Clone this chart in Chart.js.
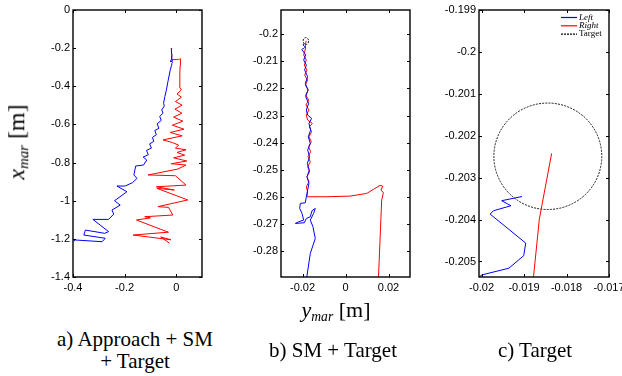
<!DOCTYPE html>
<html>
<head>
<meta charset="utf-8">
<script src="https://cdn.jsdelivr.net/npm/chart.js@4.4.0/dist/chart.umd.min.js"></script>
<style>
  body { margin: 0; width: 622px; height: 376px; background: #fff; position: relative; overflow: hidden; font-family: "Liberation Serif", serif; }
  canvas { position: absolute; top: 0; }
  .cap { position: absolute; font-size: 21px; line-height: 22px; text-align: center; white-space: nowrap; transform: translateX(-50%); }
  .lbl { position: absolute; white-space: nowrap; }
  .lbl i { font-style: italic; }
  .lbl sub { font-style: italic; font-size: 0.62em; vertical-align: -0.3em; }
</style>
</head>
<body>
<canvas id="chartA" width="210" height="300" style="left:0px"></canvas>
<canvas id="chartB" width="203" height="300" style="left:212px"></canvas>
<canvas id="chartC" width="220" height="300" style="left:415px"></canvas>

<div class="lbl" style="left:18px; top:142px; font-size:24px; transform: translate(-50%,-50%) rotate(-90deg);"><i>x</i><sub>mar</sub> [m]</div>
<div class="lbl" style="left:336px; top:311px; font-size:22px; transform: translate(-50%,-50%);"><i>y</i><sub>mar</sub> [m]</div>

<div class="cap" style="left:135px; top:328px;">a) Approach + SM<br>+ Target</div>
<div class="cap" style="left:333px; top:339px;">b) SM + Target</div>
<div class="cap" style="left:535px; top:339px;">c) Target</div>

<script>
// target circle (centre x, centre y) and radius, metres
const targetCenter = [-0.01844, -0.20249];
const targetRadius = 0.00127;

// approach phase, left (blue) and right (red) marker, from far away up to the SM start
const approachLeft = [
  [-0.398, -1.212], [-0.390, -1.206], [-0.287, -1.215], [-0.275, -1.197], [-0.358, -1.180],
  [-0.352, -1.154], [-0.277, -1.171], [-0.262, -1.162], [-0.323, -1.098], [-0.262, -1.098],
  [-0.242, -1.070], [-0.249, -1.049], [-0.217, -1.023], [-0.239, -1.000], [-0.191, -0.953],
  [-0.230, -0.923], [-0.198, -0.923], [-0.169, -0.905], [-0.152, -0.883], [-0.164, -0.865],
  [-0.157, -0.818], [-0.127, -0.813], [-0.114, -0.787], [-0.128, -0.771], [-0.108, -0.759],
  [-0.115, -0.736], [-0.096, -0.724], [-0.103, -0.702], [-0.087, -0.689], [-0.092, -0.668],
  [-0.077, -0.654], [-0.083, -0.632], [-0.067, -0.620], [-0.074, -0.597], [-0.058, -0.579],
  [-0.064, -0.558], [-0.051, -0.541], [-0.056, -0.524], [-0.046, -0.503], [-0.049, -0.489],
  [-0.044, -0.454], [-0.038, -0.419], [-0.032, -0.375], [-0.023, -0.314], [-0.0182, -0.2908]
];
const approachRight = [
  [-0.026, -1.223], [-0.060, -1.190], [-0.020, -1.205], [-0.167, -1.180], [-0.030, -1.165],
  [-0.060, -1.150], [-0.154, -1.101], [-0.100, -1.090], [-0.122, -1.084], [-0.013, -1.075],
  [-0.030, -1.035], [-0.071, -1.031], [0.045, -0.996], [-0.075, -0.935], [-0.007, -0.944],
  [-0.077, -0.927], [0.038, -0.918], [-0.003, -0.869], [-0.109, -0.865], [0.006, -0.834],
  [0.038, -0.813], [-0.019, -0.806], [0.041, -0.792], [-0.010, -0.775], [0.033, -0.761],
  [0.003, -0.747], [0.038, -0.733], [-0.003, -0.724], [0.010, -0.709], [-0.015, -0.695],
  [-0.051, -0.681], [0.023, -0.660], [-0.023, -0.642], [0.030, -0.625], [-0.015, -0.604],
  [0.026, -0.583], [-0.010, -0.562], [0.022, -0.541], [-0.005, -0.520], [0.023, -0.499],
  [-0.003, -0.480], [0.020, -0.457], [0.003, -0.440], [0.020, -0.419], [0.0128, -0.405],
  [0.0141, -0.330], [0.0153, -0.2908]
];

// SM phase
const smLeft = [
  [-0.01822, -0.29085], [-0.01637, -0.28099], [-0.01405, -0.27544], [-0.01514, -0.27113],
  [-0.01637, -0.26866], [-0.01483, -0.26620], [-0.01405, -0.26435], [-0.01560, -0.26521],
  [-0.01637, -0.26743], [-0.01822, -0.26805], [-0.01915, -0.26965], [-0.02332, -0.26990],
  [-0.02178, -0.26928], [-0.01946, -0.26866], [-0.02023, -0.26620], [-0.02131, -0.26435],
  [-0.02100, -0.26250], [-0.01869, -0.26225], [-0.01822, -0.26003], [-0.01761, -0.25757],
  [-0.01699, -0.25510], [-0.01792, -0.25264], [-0.01683, -0.25017], [-0.01776, -0.24771],
  [-0.01668, -0.24524], [-0.01761, -0.24278], [-0.01637, -0.24031], [-0.01730, -0.23785],
  [-0.01622, -0.23538], [-0.01699, -0.23291], [-0.01575, -0.23106], [-0.01761, -0.22983],
  [-0.01822, -0.22798], [-0.01714, -0.22552], [-0.01853, -0.22305], [-0.01745, -0.22059],
  [-0.01869, -0.21812], [-0.01761, -0.21566], [-0.01900, -0.21319], [-0.01822, -0.21134],
  [-0.01946, -0.20949], [-0.01853, -0.20764], [-0.02030, -0.20560]
];
const smRight = [
  [0.01529, -0.29085], [0.01606, -0.27606], [0.01683, -0.26127], [0.01761, -0.25856],
  [0.01653, -0.25757], [0.01730, -0.25609], [0.01606, -0.25584], [0.01297, -0.25732],
  [0.00988, -0.25880], [0.00216, -0.25979], [-0.00865, -0.26003], [-0.01792, -0.26003],
  [-0.01761, -0.25819], [-0.01822, -0.25634], [-0.01699, -0.25449], [-0.01792, -0.25264],
  [-0.01668, -0.25079], [-0.01761, -0.24894], [-0.01637, -0.24709], [-0.01745, -0.24524],
  [-0.01622, -0.24339], [-0.01714, -0.24154], [-0.01591, -0.23969], [-0.01699, -0.23785],
  [-0.01575, -0.23600], [-0.01683, -0.23415], [-0.01544, -0.23291], [-0.01761, -0.23168],
  [-0.01822, -0.22983], [-0.01699, -0.22798], [-0.01838, -0.22613], [-0.01714, -0.22428],
  [-0.01853, -0.22244], [-0.01730, -0.22059], [-0.01869, -0.21874], [-0.01761, -0.21689],
  [-0.01900, -0.21504], [-0.01792, -0.21319], [-0.01915, -0.21134], [-0.01822, -0.20949],
  [-0.01946, -0.20764], [-0.01890, -0.20620]
];

// final approach into the target
const targetLeft = [
  [-0.02010, -0.20540], [-0.019991, -0.20532], [-0.019356, -0.20516], [-0.019007, -0.20486],
  [-0.018960, -0.20456], [-0.019798, -0.20387], [-0.019721, -0.20379], [-0.019309, -0.20367],
  [-0.019526, -0.20355], [-0.019046, -0.20345]
];
const targetRight = [
  [-0.01880, -0.20560], [-0.01864, -0.20399], [-0.01835, -0.20242]
];

// axis ranges and tick values per panel
const xRangeA = [-0.4, 0.1],        yRangeA = [-1.4, 0];
const xTicksA = [-0.4, -0.2, 0],    yTicksA = [0, -0.2, -0.4, -0.6, -0.8, -1, -1.2, -1.4];
const xRangeB = [-0.03, 0.03],      yRangeB = [-0.2897, -0.191];
const xTicksB = [-0.02, 0, 0.02],   yTicksB = [-0.2, -0.21, -0.22, -0.23, -0.24, -0.25, -0.26, -0.27, -0.28];
const xRangeC = [-0.02006, -0.017], yRangeC = [-0.20537, -0.199];
const xTicksC = [-0.02, -0.019, -0.018, -0.017];
const yTicksC = [-0.199, -0.2, -0.201, -0.202, -0.203, -0.204, -0.205];

const toPts = arr => arr.map(p => ({ x: p[0], y: p[1] }));
const fmt = v => String(parseFloat(Number(v).toFixed(4)));
const tickFont = { family: '"Liberation Sans", Arial, sans-serif', size: 11 };

// box round the plot with inward ticks on all four sides
const framePlugin = {
  id: 'frame',
  afterDatasetsDraw(chart) {
    const { ctx, chartArea: a, scales: { x, y } } = chart;
    ctx.save();
    ctx.strokeStyle = '#000';
    ctx.lineWidth = 1;
    ctx.setLineDash([]);
    ctx.beginPath();
    x.ticks.forEach(t => {
      const px = Math.round(x.getPixelForValue(t.value)) + 0.5;
      ctx.moveTo(px, a.bottom); ctx.lineTo(px, a.bottom - 3);
      ctx.moveTo(px, a.top); ctx.lineTo(px, a.top + 3);
    });
    y.ticks.forEach(t => {
      const py = Math.round(y.getPixelForValue(t.value)) + 0.5;
      ctx.moveTo(a.left, py); ctx.lineTo(a.left + 3, py);
      ctx.moveTo(a.right, py); ctx.lineTo(a.right - 3, py);
    });
    ctx.stroke();
    ctx.lineWidth = 1.4;
    ctx.strokeRect(a.left, a.top, a.right - a.left, a.bottom - a.top);
    ctx.restore();
  }
};

// dashed target circle, drawn through the scales
const targetPlugin = {
  id: 'target',
  beforeDatasetsDraw(chart) {
    const { ctx, chartArea: a, scales: { x, y } } = chart;
    const cx = x.getPixelForValue(targetCenter[0]);
    const cy = y.getPixelForValue(targetCenter[1]);
    const rx = Math.abs(x.getPixelForValue(targetCenter[0] + targetRadius) - cx);
    const ry = Math.abs(y.getPixelForValue(targetCenter[1] + targetRadius) - cy);
    ctx.save();
    ctx.beginPath();
    ctx.rect(a.left, a.top, a.right - a.left, a.bottom - a.top);
    ctx.clip();
    ctx.strokeStyle = '#000';
    ctx.lineWidth = 0.9;
    ctx.setLineDash([2, 1.2]);
    ctx.beginPath();
    ctx.ellipse(cx, cy, rx, ry, 0, 0, Math.PI * 2);
    ctx.stroke();
    ctx.restore();
  }
};

// small legend in the top right corner of the plot
const cornerLegend = {
  id: 'cornerLegend',
  afterDraw(chart) {
    const { ctx, chartArea: a } = chart;
    ctx.save();
    chart.data.datasets.forEach((ds, i) => {
      const y = a.top + 7.5 + i * 8.3;
      ctx.strokeStyle = ds.borderColor;
      ctx.lineWidth = 1.2;
      ctx.setLineDash(ds.borderDash || []);
      ctx.beginPath();
      ctx.moveTo(a.right - 48, y);
      ctx.lineTo(a.right - 32, y);
      ctx.stroke();
      ctx.font = (ds.label === 'Target' ? '' : 'italic ') + '9px "Liberation Serif", serif';
      ctx.fillStyle = '#000';
      ctx.textBaseline = 'middle';
      ctx.fillText(ds.label, a.right - 30, y);
    });
    ctx.restore();
  }
};

function makePanel(id, right, blue, red, xr, yr, xt, yt, yAxisW, plugins) {
  return new Chart(document.getElementById(id), {
    type: 'scatter',
    data: {
      datasets: [
        { label: 'Left', data: toPts(blue), showLine: true, borderColor: '#0000ff', borderWidth: 1, pointRadius: 0, tension: 0 },
        { label: 'Right', data: toPts(red), showLine: true, borderColor: '#ff0000', borderWidth: 1, pointRadius: 0, tension: 0 },
        { label: 'Target', data: [], showLine: true, borderColor: '#000', borderDash: [2, 1], borderWidth: 1, pointRadius: 0 }
      ]
    },
    options: {
      responsive: false,
      animation: false,
      layout: { padding: { top: 10, right: right, left: 0, bottom: 0 } },
      plugins: { legend: { display: false }, tooltip: { enabled: false } },
      scales: {
        x: {
          type: 'linear', min: xr[0], max: xr[1],
          afterBuildTicks: s => { s.ticks = xt.map(v => ({ value: v })); },
          afterFit: s => { s.height = 23; },
          grid: { display: false, drawTicks: false },
          border: { display: false },
          ticks: { font: tickFont, color: '#000', padding: 4, maxRotation: 0, autoSkip: false, callback: fmt }
        },
        y: {
          type: 'linear', min: yr[0], max: yr[1],
          afterBuildTicks: s => { s.ticks = yt.map(v => ({ value: v })); },
          afterFit: s => { s.width = yAxisW; },
          grid: { display: false, drawTicks: false },
          border: { display: false },
          ticks: { font: tickFont, color: '#000', padding: 3, autoSkip: false, callback: fmt }
        }
      }
    },
    plugins: plugins
  });
}

makePanel('chartA', 8,
  approachLeft.concat(smLeft, targetLeft), approachRight.concat(smRight, targetRight),
  xRangeA, yRangeA, xTicksA, yTicksA, 73, [targetPlugin, framePlugin]);

makePanel('chartB', 5,
  smLeft.concat(targetLeft), smRight.concat(targetRight),
  xRangeB, yRangeB, xTicksB, yTicksB, 69, [targetPlugin, framePlugin]);

makePanel('chartC', 26,
  targetLeft, targetRight,
  xRangeC, yRangeC, xTicksC, yTicksC, 64, [targetPlugin, framePlugin, cornerLegend]);
</script>
</body>
</html>
